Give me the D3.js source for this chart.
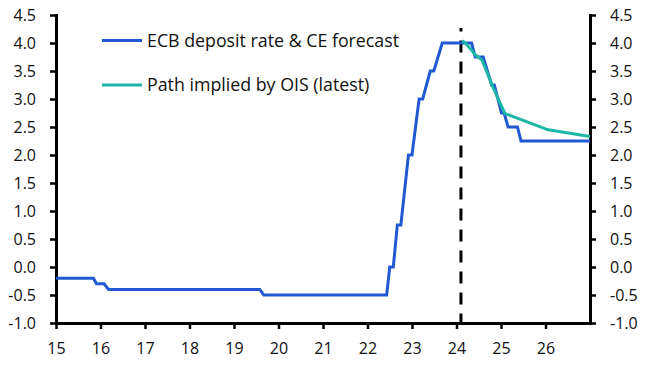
<!DOCTYPE html>
<html lang="en">
<head>
    <meta charset="UTF-8">
    <title>ECB deposit rate</title>
    <script src="https://d3js.org/d3.v7.min.js"></script>
    <style>
        body {
            margin: 0;
            background: #fff;
        }
        svg text {
            font-family: "Open Sans", sans-serif;
            fill: #111;
        }
        .axis path, .axis line {
            stroke: #000;
        }
        .axis path {
            stroke-width: 3;
        }
        .axis line {
            stroke-width: 2.5;
        }
        .axis text {
            font-size: 16px;
        }
        .legend text {
            font-size: 17.8px;
        }
    </style>
</head>
<body>
    <div id="chart"></div>

    <script>
        const width = 651, height = 375;

        // ECB deposit rate & CE forecast (x = year, 15 = 2015)
        const ecbYears = [15.0, 15.84, 15.91, 16.08, 16.18, 19.58, 19.67, 22.43, 22.5, 22.58,
                          22.67, 22.75, 22.92, 23.0, 23.16, 23.24, 23.41, 23.49, 23.68, 24.34,
                          24.42, 24.6, 24.79, 24.85, 25.01, 25.07, 25.16, 25.37, 25.45, 27.0];
        const ecbRates = [-0.2, -0.2, -0.3, -0.3, -0.4, -0.4, -0.5, -0.5, 0.0, 0.0,
                          0.75, 0.75, 2.0, 2.0, 3.0, 3.0, 3.5, 3.5, 4.0, 4.0,
                          3.75, 3.75, 3.25, 3.25, 2.75, 2.75, 2.5, 2.5, 2.25, 2.25];

        // Path implied by OIS (latest)
        const oisYears = [24.13, 24.2, 24.32, 24.42, 24.57, 24.83, 25.09, 26.06, 27.0];
        const oisRates = [4.04, 4.0, 3.89, 3.79, 3.70, 3.19, 2.74, 2.45, 2.33];

        const xTicks = [15, 16, 17, 18, 19, 20, 21, 22, 23, 24, 25, 26];
        const yTicks = [-1.0, -0.5, 0.0, 0.5, 1.0, 1.5, 2.0, 2.5, 3.0, 3.5, 4.0, 4.5];
        const forecastStart = 24.1;

        const seriesNames = ["ECB deposit rate & CE forecast", "Path implied by OIS (latest)"];
        const seriesColors = ["#2059d1", "#1db7a6"];

        const svg = d3.select("#chart")
            .append("svg")
            .attr("width", width)
            .attr("height", height);

        const x = d3.scaleLinear().domain([15, 27]).range([56, 590]);
        const y = d3.scaleLinear().domain([-1, 4.5]).range([323, 15]);

        const fmt = d => d.toFixed(1);

        svg.append("g")
            .attr("class", "axis")
            .attr("transform", `translate(0,${y(-1)})`)
            .call(d3.axisBottom(x).tickValues(xTicks).tickSize(6).tickSizeOuter(0).tickPadding(14).tickFormat(d => d));

        svg.append("g")
            .attr("class", "axis")
            .attr("transform", `translate(${x(15)},0)`)
            .call(d3.axisLeft(y).tickValues(yTicks).tickSize(6).tickSizeOuter(0).tickPadding(14).tickFormat(fmt));

        svg.append("g")
            .attr("class", "axis")
            .attr("transform", `translate(${x(27)},0)`)
            .call(d3.axisRight(y).tickValues(yTicks).tickSize(6).tickSizeOuter(0).tickPadding(14).tickFormat(fmt));

        svg.selectAll(".axis .domain").attr("stroke-linecap", "square");

        // forecast divider
        svg.append("line")
            .attr("x1", x(forecastStart))
            .attr("x2", x(forecastStart))
            .attr("y1", 28)
            .attr("y2", y(-1))
            .attr("stroke", "#000")
            .attr("stroke-width", 3)
            .attr("stroke-dasharray", "12,9")
            .attr("stroke-dashoffset", 8.6);

        const line = d3.line()
            .x(d => x(d[0]))
            .y(d => y(d[1]));

        const ecb = ecbYears.map((t, i) => [t, ecbRates[i]]);
        const ois = oisYears.map((t, i) => [t, oisRates[i]]);

        svg.append("path")
            .datum(ecb)
            .attr("d", line)
            .attr("fill", "none")
            .attr("stroke", seriesColors[0])
            .attr("stroke-width", 3);

        svg.append("path")
            .datum(ois)
            .attr("d", line)
            .attr("fill", "none")
            .attr("stroke", seriesColors[1])
            .attr("stroke-width", 3)
            .attr("stroke-linejoin", "round");

        // legend
        const legend = svg.append("g").attr("class", "legend");
        seriesNames.forEach((name, i) => {
            const ly = 40.5 + i * 44.5;
            legend.append("line")
                .attr("x1", 102)
                .attr("x2", 142)
                .attr("y1", ly)
                .attr("y2", ly)
                .attr("stroke", seriesColors[i])
                .attr("stroke-width", 3);
            legend.append("text")
                .attr("x", 147)
                .attr("y", ly + 6.3)
                .text(name);
        });
    </script>
</body>
</html>
